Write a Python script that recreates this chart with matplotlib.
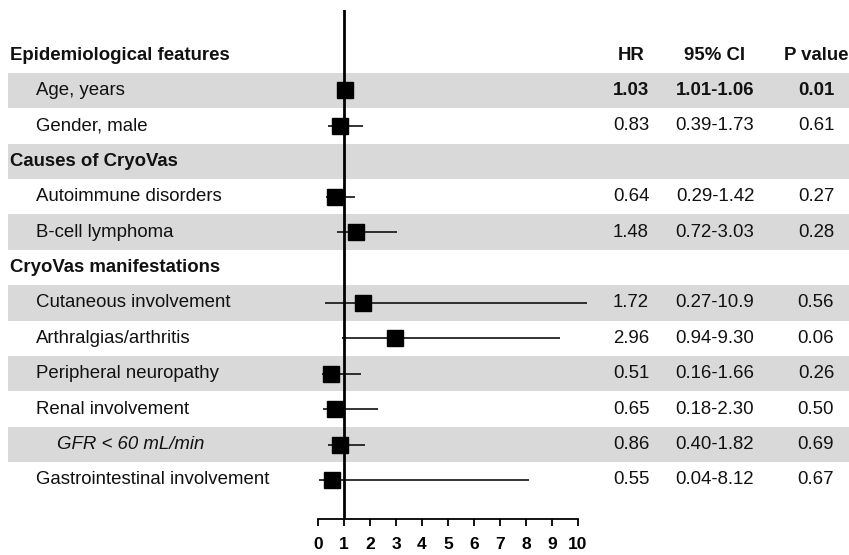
import matplotlib
matplotlib.use("Agg")
import matplotlib.pyplot as plt
from matplotlib.transforms import blended_transform_factory

plt.rcParams['font.family'] = ['Liberation Sans', 'DejaVu Sans']

# rows top to bottom; kind: h = section header, i = item, s = sub item (italic)
labels = ["Epidemiological features", "Age, years", "Gender, male",
          "Causes of CryoVas", "Autoimmune disorders", "B-cell lymphoma",
          "CryoVas manifestations", "Cutaneous involvement", "Arthralgias/arthritis",
          "Peripheral neuropathy", "Renal involvement", "GFR < 60 mL/min",
          "Gastrointestinal involvement"]
kinds = ["h", "i", "i", "h", "i", "i", "h", "i", "i", "i", "i", "s", "i"]
hr = [None, 1.03, 0.83, None, 0.64, 1.48, None, 1.72, 2.96, 0.51, 0.65, 0.86, 0.55]
ci_lo = [None, 1.01, 0.39, None, 0.29, 0.72, None, 0.27, 0.94, 0.16, 0.18, 0.40, 0.04]
ci_hi = [None, 1.06, 1.73, None, 1.42, 3.03, None, 10.9, 9.30, 1.66, 2.30, 1.82, 8.12]
ci_txt = [None, "1.01-1.06", "0.39-1.73", None, "0.29-1.42", "0.72-3.03", None,
          "0.27-10.9", "0.94-9.30", "0.16-1.66", "0.18-2.30", "0.40-1.82", "0.04-8.12"]
pval = [None, "0.01", "0.61", None, "0.27", "0.28", None,
        "0.56", "0.06", "0.26", "0.50", "0.69", "0.67"]
bold_rows = [1]
col_heads = ["HR", "95% CI", "P value"]
xticks = list(range(0, 11))

W, H = 849, 555
fig = plt.figure(figsize=(W / 100, H / 100), dpi=100)

# 26 px per unit: 0 at 318 px, 10 at 578 px; the long CI is cut just past 10
xmin, xmax = -0.5, 10.35
ax_left = 318 + xmin * 26
ax_w = (xmax - xmin) * 26
ax = fig.add_axes([ax_left / W, (H - 519) / H, ax_w / W, 509 / H])
ax.set_xlim(xmin, xmax)
n = len(labels)
pitch = 35.4
ax.set_ylim(-(n - 1) - 39 / pitch, 45 / pitch)

gray = "#d9d9d9"
ink = "#111111"
fs = 13.4

# striped rows across the whole table
x0 = (8 - ax_left) / ax_w
x1 = (W - ax_left) / ax_w
for k in range(n):
    if k % 2 == 1:
        ax.axhspan(-k - 0.5, -k + 0.5, xmin=x0, xmax=x1, color=gray, lw=0,
                   clip_on=False, zorder=0)

ax.axvline(1, color="black", lw=2.0, zorder=3)

for k in range(n):
    if hr[k] is None:
        continue
    ax.plot([ci_lo[k], ci_hi[k]], [-k, -k], color=ink, lw=1.2, zorder=2,
            solid_capstyle="butt")
    ax.plot(hr[k], -k, marker="s", ms=11, color="black", zorder=4)

tr = blended_transform_factory(fig.transFigure, ax.transData)
for k in range(n):
    if kinds[k] == "h":
        ax.text(10 / W, -k, labels[k], transform=tr, ha="left", va="center",
                fontsize=fs, fontweight="bold", color=ink)
    elif kinds[k] == "s":
        ax.text(57 / W, -k, labels[k], transform=tr, ha="left", va="center",
                fontsize=fs, style="italic", color=ink)
    else:
        ax.text(36 / W, -k, labels[k], transform=tr, ha="left", va="center",
                fontsize=fs, color=ink)
    if hr[k] is not None:
        wt = "bold" if k in bold_rows else "normal"
        ax.text(631 / W, -k, f"{hr[k]:.2f}", transform=tr, ha="center",
                va="center", fontsize=fs, fontweight=wt, color=ink)
        ax.text(715 / W, -k, ci_txt[k], transform=tr, ha="center",
                va="center", fontsize=fs, fontweight=wt, color=ink)
        ax.text(816 / W, -k, pval[k], transform=tr, ha="center",
                va="center", fontsize=fs, fontweight=wt, color=ink)

for cx, head in zip([631, 715, 816], col_heads):
    ax.text(cx / W, 0, head, transform=tr, ha="center", va="center",
            fontsize=fs, fontweight="bold", color=ink)

for s in ["top", "right", "left"]:
    ax.spines[s].set_visible(False)
ax.spines["bottom"].set_bounds(0, 10)
ax.spines["bottom"].set_linewidth(1.3)
ax.set_yticks([])
ax.set_xticks(xticks)
ax.set_xticklabels([str(t) for t in xticks], fontsize=12.5, fontweight="bold")
ax.tick_params(axis="x", direction="out", length=5, width=1.3, pad=8, colors="black")
ax.patch.set_alpha(0)

fig.savefig("out.png", dpi=100)
